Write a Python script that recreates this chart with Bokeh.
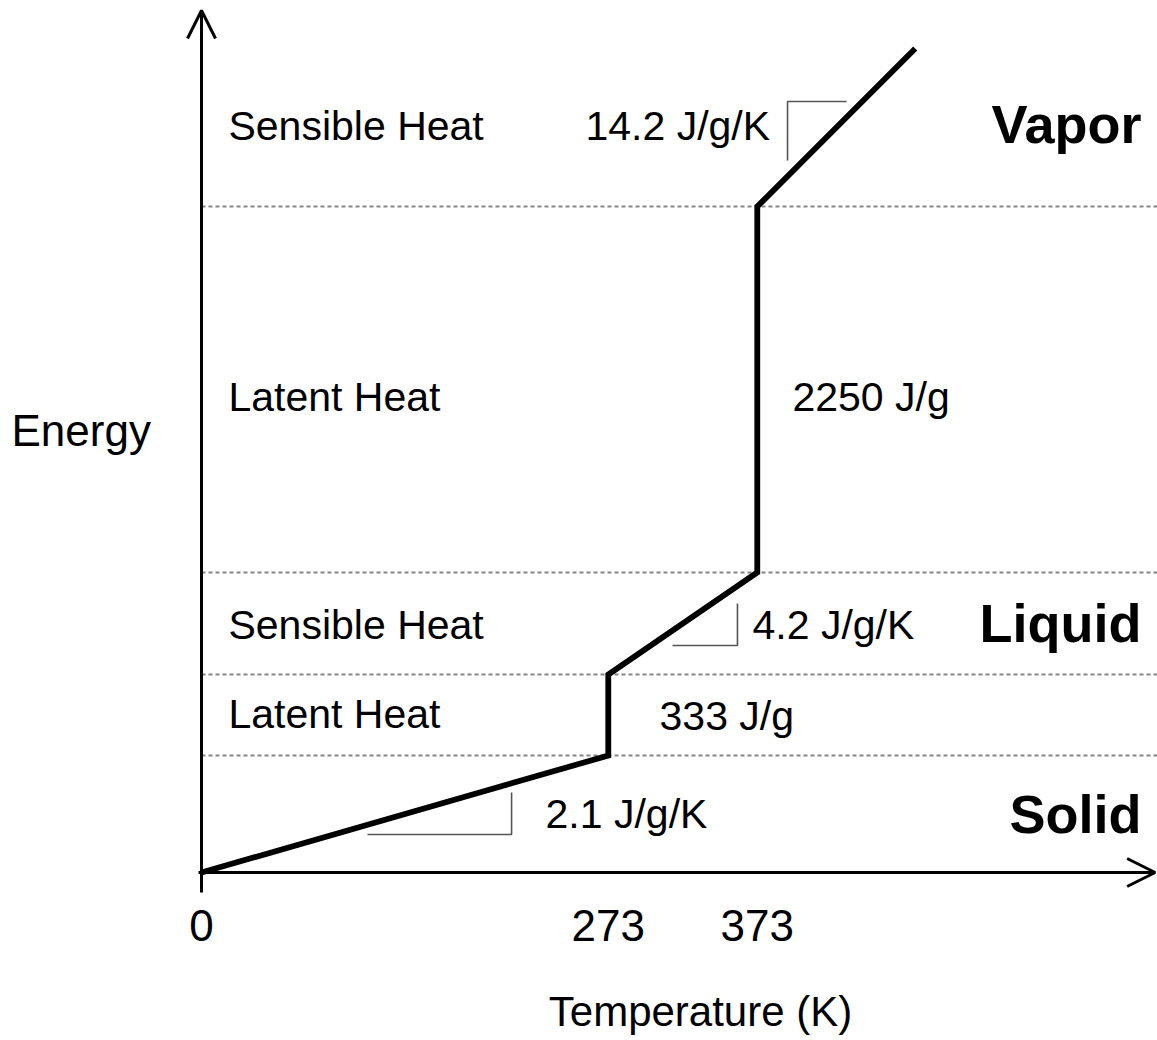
from bokeh.plotting import figure
from bokeh.models import (ColumnDataSource, LinearAxis, FixedTicker, Arrow, OpenHead, Range1d)
from bokeh.core.properties import value
from bokeh.embed import file_html
from bokeh.resources import INLINE

# ---------------- data ----------------
temperature_K = [0, 273, 273, 373, 373, 479]          # heating curve, temperature
energy = [0, 117, 198, 300, 666, 824]                  # heating curve, energy (arbitrary units)
phase_boundaries = [117, 198, 300, 666]                # dashed levels (energy)
tick_values = [0, 273, 373]
tick_labels = ["0", "273", "373"]
region_labels = ["Sensible Heat", "Latent Heat", "Sensible Heat", "Latent Heat"]
slope_labels = ["14.2 J/g/K", "2250 J/g", "4.2 J/g/K", "333 J/g", "2.1 J/g/K"]
phase_names = ["Vapor", "Liquid", "Solid"]

# ---------------- layout ----------------
W, H = 1157, 1040
FONT = value("Liberation Sans")
X0, X1 = -134.9, 641.6
Y0, Y1 = -168, 872

p = figure(width=W, height=H, output_backend="svg", toolbar_location=None,
           x_axis_type=None, y_axis_type=None,
           x_range=Range1d(X0, X1), y_range=Range1d(Y0, Y1),
           min_border=0, outline_line_color=None,
           background_fill_color="white", border_fill_color="white")

# x axis placed at energy 0 (tick labels only; the line is drawn as an arrow)
xaxis = LinearAxis(ticker=FixedTicker(ticks=tick_values), fixed_location=0,
                   major_label_overrides={v: s for v, s in zip(tick_values, tick_labels)})
xaxis.axis_line_color = None
xaxis.major_tick_line_color = None
xaxis.minor_tick_line_color = None
xaxis.major_label_standoff = 31
xaxis.major_label_text_font = "Liberation Sans"
xaxis.major_label_text_font_size = "44px"
xaxis.major_label_text_color = "black"
p.add_layout(xaxis, "below")

# dashed phase boundaries
p.segment(x0=[0] * len(phase_boundaries), x1=[X1] * len(phase_boundaries),
          y0=phase_boundaries, y1=phase_boundaries,
          line_color="#858585", line_width=2, line_dash="4 3")

# slope markers
p.multi_line(xs=[[432.9, 393.3, 393.3], [316.1, 359.7, 359.7], [111.4, 208.1, 208.1]],
             ys=[[771, 771, 712], [227, 227, 269], [38, 38, 80]],
             line_color="#555555", line_width=1.6)

# heating curve
p.line(temperature_K, energy, line_color="black", line_width=5.8, line_join="miter")

# axes arrows
p.add_layout(Arrow(end=OpenHead(size=28, line_width=3, line_color="black"),
                   x_start=-2, y_start=0, x_end=640, y_end=0,
                   line_width=3, line_color="black"))
p.add_layout(Arrow(end=OpenHead(size=28, line_width=3, line_color="black"),
                   x_start=0, y_start=-20, x_end=0, y_end=862,
                   line_width=3, line_color="black"))

# region labels
src_reg = ColumnDataSource(dict(x=[18.1] * 4, y=[747, 476, 248, 159], t=region_labels))
p.text(x="x", y="y", text="t", source=src_reg, text_font=FONT,
       text_font_size=value("41px"), text_align="left", text_baseline="middle",
       text_color="black")

# slope labels
src_slope = ColumnDataSource(dict(x=[257.7, 396.6, 369.8, 307.4, 230.9],
                                  y=[747, 476, 248, 157, 59], t=slope_labels))
p.text(x="x", y="y", text="t", source=src_slope, text_font=FONT,
       text_font_size=value("41px"), text_align="left", text_baseline="middle",
       text_color="black")

# phase names
src_phase = ColumnDataSource(dict(x=[630.9] * 3, y=[749, 250, 59], t=phase_names))
p.text(x="x", y="y", text="t", source=src_phase, text_font=FONT,
       text_font_size=value("54px"), text_font_style="bold", text_align="right",
       text_baseline="middle", text_color="black")

# axis titles
p.text(x=[-127.5], y=[442], text=["Energy"], text_font=FONT,
       text_font_size=value("44px"), text_align="left", text_baseline="middle",
       text_color="black")
p.text(x=[334.9], y=[-139], text=["Temperature (K)"], text_font=FONT,
       text_font_size=value("42px"), text_align="center", text_baseline="middle",
       text_color="black")

open("out.html", "w").write(file_html(p, INLINE))
